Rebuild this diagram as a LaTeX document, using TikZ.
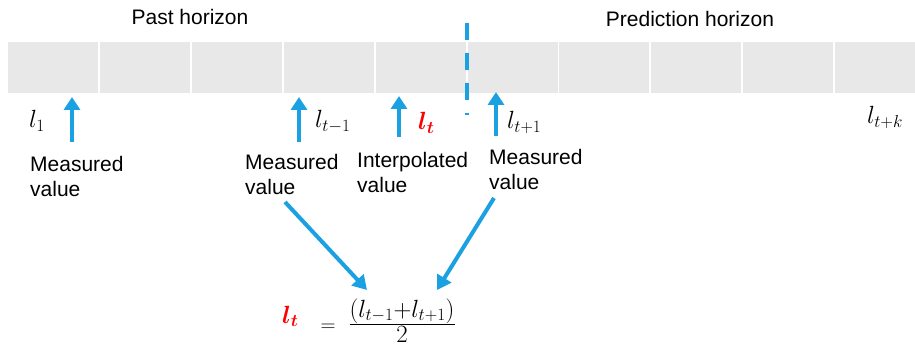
\documentclass[tikz,border=0pt]{standalone}
\usepackage{fontspec}
\usepackage{amsmath}
\usepackage{bm}
\setmainfont{Liberation Sans}
\usetikzlibrary{arrows.meta}
\definecolor{arrblue}{RGB}{27,161,226}
\definecolor{cellgray}{RGB}{232,232,232}
\definecolor{ltred}{RGB}{255,0,0}
\tikzset{
  cellbox/.style={fill=cellgray, draw=none},
  upar/.style={draw=arrblue, line width=4pt, -{Triangle[length=13pt,width=16pt]}},
  diagar/.style={draw=arrblue, line width=4pt, -{Triangle[length=14pt,width=16pt]}},
  lbl/.style={inner sep=0pt, font=\fontsize{21}{25}\selectfont, align=left, anchor=north west},
  ttl/.style={inner sep=0pt, font=\fontsize{21}{25}\selectfont, anchor=north},
  mlbl/.style={inner sep=0pt, font=\fontsize{25}{29}\selectfont, anchor=base west},
  divline/.style={draw=arrblue, line width=4pt, dash pattern=on 17pt off 13pt}
}
\begin{document}
\begin{tikzpicture}[x=1pt,y=-1pt]
\useasboundingbox (0,0) rectangle (915,347);
% cells
\foreach \i in {0,...,9} {
  \path[cellbox] ({8+91.9*\i},42) rectangle ++(90,51);
}
% titles
\node[ttl] (past) at (190,9.5) {Past horizon};
\node[ttl] (pred) at (690,11) {Prediction horizon};
% divider
\coordinate (dtop) at (466.5,22.7);
\coordinate (dbot) at (466.5,115);
\draw[divline] (dtop) -- (dbot);
% math labels
\node[mlbl] (l1) at (29,128) {$l_1$};
\node[mlbl] (ltm1) at (315,128) {$l_{t-1}$};
\node[mlbl, text=ltred] (lt) at (418,130) {$\bm{l_t}$};
\node[mlbl] (ltp1) at (507,129) {$l_{t+1}$};
\node[mlbl] (ltpk) at (867,124) {$l_{t+k}$};
% text labels
\node[lbl] (m1) at (30,156.5) {Measured\\value};
\node[lbl] (m2) at (245,154) {Measured\\value};
\node[lbl] (ip) at (357,152.5) {Interpolated\\value};
\node[lbl] (m3) at (489,149.5) {Measured\\value};
% up arrows
\coordinate (a1s) at (72,142); \coordinate (a1e) at (72,97);
\coordinate (a2s) at (299,142); \coordinate (a2e) at (299,97);
\coordinate (a3s) at (399,137); \coordinate (a3e) at (399,96);
\coordinate (a4s) at (496,136); \coordinate (a4e) at (496,92);
\draw[upar] (a1s) -- (a1e);
\draw[upar] (a2s) -- (a2e);
\draw[upar] (a3s) -- (a3e);
\draw[upar] (a4s) -- (a4e);
% formula
\node[mlbl, text=ltred] (flt) at (282,323) {$\bm{l_t}$};
\node[inner sep=0pt, font=\fontsize{22}{26}\selectfont, anchor=base] (feq) at (328,331) {$=$};
\node[inner sep=0pt, font=\fontsize{25}{29}\selectfont, anchor=base] (frac) at (402,331) {$\frac{\textstyle(l_{t-1}{+}l_{t+1})}{\textstyle 2}$};
% diagonal arrows
\coordinate (d1s) at (285,202); \coordinate (d1e) at (367,290);
\coordinate (d2s) at (494,198); \coordinate (d2e) at (437,290);
\draw[diagar] (d1s) -- (d1e);
\draw[diagar] (d2s) -- (d2e);
\end{tikzpicture}
\end{document}
